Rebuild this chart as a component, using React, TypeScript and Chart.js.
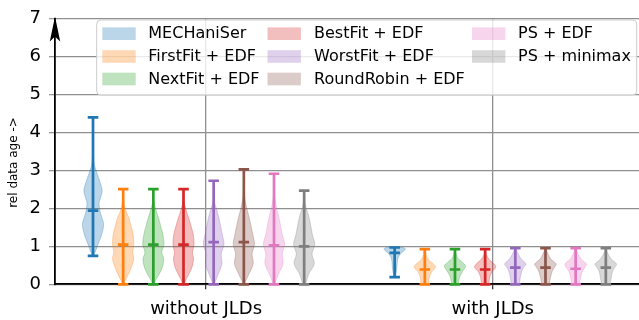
import React, { useEffect, useRef } from 'react';
import { Chart, registerables } from 'chart.js';

Chart.register(...registerables);
Chart.defaults.font.family = "'DejaVu Sans', sans-serif";

// ---------- data ----------
const seriesNames = [
  'MECHaniSer',
  'FirstFit + EDF',
  'NextFit + EDF',
  'BestFit + EDF',
  'WorstFit + EDF',
  'RoundRobin + EDF',
  'PS + EDF',
  'PS + minimax',
];
const groupLabels = ['without JLDs', 'with JLDs'];
const yTicks = [0, 1, 2, 3, 4, 5, 6, 7];
const yAxisTitle = 'rel data age ->';

const minWithout = [0.75, 0, 0, 0, 0, 0, 0, 0];
const maxWithout = [4.4, 2.51, 2.51, 2.51, 2.73, 3.03, 2.915, 2.47];
const medianWithout = [1.94, 1.045, 1.045, 1.045, 1.114, 1.114, 1.03, 1.0];

const minWith = [0.19, 0, 0, 0, 0, 0, 0, 0];
const maxWith = [0.97, 0.93, 0.93, 0.93, 0.95, 0.95, 0.95, 0.95];
const medianWith = [0.83, 0.39, 0.39, 0.39, 0.44, 0.44, 0.41, 0.44];

// density profiles: [value, relative density (1 = widest)]
const profileWithout: number[][][] = [
  [[0.75, 0], [0.84, 0.19], [1.055, 0.47], [1.31, 0.82], [1.57, 1.0], [1.75, 0.85], [1.91, 0.68], [2.12, 0.57], [2.25, 0.68], [2.43, 0.85], [2.55, 0.82], [2.77, 0.57], [3.03, 0.25], [3.2, 0.1], [3.5, 0.04], [4.0, 0.02], [4.4, 0]],
  [[0, 0.1], [0.07, 0.15], [0.24, 0.45], [0.45, 0.78], [0.67, 1.0], [0.84, 0.9], [1.055, 1.0], [1.31, 0.95], [1.53, 0.75], [1.74, 0.55], [1.91, 0.3], [2.17, 0.06], [2.51, 0.01]],
  [[0, 0.1], [0.1, 0.2], [0.24, 0.5], [0.45, 0.85], [0.67, 0.98], [0.84, 0.8], [1.055, 1.0], [1.31, 0.9], [1.53, 0.7], [1.74, 0.5], [1.91, 0.3], [2.17, 0.07], [2.51, 0.01]],
  [[0, 0.1], [0.1, 0.2], [0.24, 0.45], [0.45, 0.8], [0.67, 0.95], [0.84, 0.85], [1.055, 1.0], [1.31, 0.92], [1.53, 0.72], [1.74, 0.5], [1.91, 0.3], [2.17, 0.07], [2.51, 0.01]],
  [[0, 0.1], [0.07, 0.15], [0.28, 0.45], [0.54, 0.78], [0.8, 0.72], [1.055, 0.97], [1.31, 0.82], [1.74, 0.5], [2.0, 0.25], [2.17, 0.08], [2.43, 0.02], [2.73, 0]],
  [[0, 0.1], [0.07, 0.15], [0.28, 0.5], [0.54, 0.88], [0.8, 0.78], [1.055, 1.0], [1.31, 0.85], [1.74, 0.52], [2.0, 0.28], [2.3, 0.08], [2.6, 0.03], [3.03, 0]],
  [[0, 0.1], [0.07, 0.15], [0.28, 0.45], [0.54, 0.85], [0.8, 0.78], [1.055, 1.0], [1.31, 0.78], [1.74, 0.48], [2.0, 0.25], [2.3, 0.07], [2.6, 0.02], [2.915, 0]],
  [[0, 0.15], [0.07, 0.2], [0.28, 0.45], [0.54, 0.95], [0.8, 0.75], [1.055, 1.0], [1.31, 0.78], [1.74, 0.48], [2.0, 0.2], [2.2, 0.05], [2.47, 0]],
];
const profileWith: number[][][] = [
  [[0.19, 0.05], [0.24, 0.1], [0.41, 0.2], [0.67, 0.3], [0.8, 0.55], [0.92, 1.0], [0.97, 0.8]],
  [[0, 0.35], [0.07, 0.38], [0.2, 0.45], [0.33, 0.65], [0.45, 1.0], [0.54, 0.8], [0.63, 0.4], [0.75, 0.15], [0.85, 0.07], [0.93, 0.03]],
  [[0, 0.3], [0.07, 0.35], [0.2, 0.45], [0.33, 0.7], [0.48, 1.0], [0.58, 0.7], [0.66, 0.35], [0.78, 0.12], [0.93, 0.03]],
  [[0, 0.35], [0.07, 0.38], [0.2, 0.45], [0.33, 0.65], [0.45, 1.0], [0.55, 0.8], [0.65, 0.4], [0.78, 0.12], [0.93, 0.03]],
  [[0, 0.38], [0.15, 0.45], [0.33, 0.6], [0.45, 0.8], [0.54, 1.0], [0.67, 0.55], [0.84, 0.2], [0.95, 0.05]],
  [[0, 0.35], [0.15, 0.45], [0.33, 0.62], [0.45, 0.85], [0.54, 1.0], [0.67, 0.5], [0.84, 0.18], [0.95, 0.05]],
  [[0, 0.38], [0.15, 0.45], [0.33, 0.62], [0.45, 0.9], [0.54, 1.0], [0.67, 0.5], [0.84, 0.18], [0.95, 0.05]],
  [[0, 0.4], [0.15, 0.5], [0.33, 0.62], [0.45, 0.85], [0.54, 1.0], [0.67, 0.5], [0.84, 0.15], [0.95, 0.05]],
];

// ---------- styles / layout ----------
const seriesColors = ['#1f77b4', '#ff7f0e', '#2ca02c', '#d62728', '#9467bd', '#8c564b', '#e377c2', '#7f7f7f'];
const groupOffsets = [0, 10];
const groupTickValues = [3.75, 13.25];
const violinHalf = 0.35;
const capHalf = 0.175;

function rgba(hex: string, a: number) {
  const n = parseInt(hex.slice(1), 16);
  return `rgba(${(n >> 16) & 255},${(n >> 8) & 255},${n & 255},${a})`;
}

function densify(p: number[][]) {
  const out: number[][] = [];
  const n = p.length;
  for (let i = 0; i < n - 1; i++) {
    const p0 = p[Math.max(0, i - 1)], p1 = p[i], p2 = p[i + 1], p3 = p[Math.min(n - 1, i + 2)];
    const steps = 10;
    for (let s = 0; s < steps; s++) {
      const t = s / steps, t2 = t * t, t3 = t2 * t;
      const cr = (a: number, b: number, c: number, d: number) =>
        0.5 * (2 * b + (-a + c) * t + (2 * a - 5 * b + 4 * c - d) * t2 + (-a + 3 * b - 3 * c + d) * t3);
      out.push([cr(p0[0], p1[0], p2[0], p3[0]), Math.max(0, cr(p0[1], p1[1], p2[1], p3[1]))]);
    }
  }
  out.push(p[n - 1]);
  return out;
}

const groups = [
  { mins: minWithout, maxs: maxWithout, meds: medianWithout, profiles: profileWithout },
  { mins: minWith, maxs: maxWith, meds: medianWith, profiles: profileWith },
];

const violinPlugin = {
  id: 'violins',
  afterDatasetsDraw(chart: any) {
    const { ctx } = chart;
    const x = chart.scales.x, y = chart.scales.y;
    ctx.save();
    groups.forEach((g, gi) => {
      seriesNames.forEach((_, i) => {
        const pos = groupOffsets[gi] + i;
        const color = seriesColors[i];
        const dense = densify(g.profiles[i]);
        ctx.beginPath();
        dense.forEach(([v, d], k) => {
          const px = x.getPixelForValue(pos + violinHalf * d);
          const py = y.getPixelForValue(v);
          if (k === 0) ctx.moveTo(px, py); else ctx.lineTo(px, py);
        });
        for (let k = dense.length - 1; k >= 0; k--) {
          const [v, d] = dense[k];
          ctx.lineTo(x.getPixelForValue(pos - violinHalf * d), y.getPixelForValue(v));
        }
        ctx.closePath();
        ctx.fillStyle = rgba(color, 0.3);
        ctx.fill();
        ctx.strokeStyle = rgba(color, 0.3);
        ctx.lineWidth = 1;
        ctx.stroke();

        ctx.strokeStyle = color;
        ctx.lineWidth = 2.7;
        ctx.lineCap = 'butt';
        ctx.beginPath();
        ctx.moveTo(x.getPixelForValue(pos), y.getPixelForValue(g.mins[i]));
        ctx.lineTo(x.getPixelForValue(pos), y.getPixelForValue(g.maxs[i]));
        [g.mins[i], g.maxs[i], g.meds[i]].forEach((v) => {
          ctx.moveTo(x.getPixelForValue(pos - capHalf), y.getPixelForValue(v));
          ctx.lineTo(x.getPixelForValue(pos + capHalf), y.getPixelForValue(v));
        });
        ctx.stroke();
      });
    });
    ctx.restore();
  },
  afterDraw(chart: any) {
    const { ctx, chartArea } = chart;
    ctx.save();
    // arrow on y axis
    const ax = chartArea.left, at = chartArea.top;
    ctx.fillStyle = '#000';
    ctx.beginPath();
    ctx.moveTo(ax, at - 2.3);
    ctx.lineTo(ax - 5.2, at + 22.7);
    ctx.lineTo(ax, at + 17.7);
    ctx.lineTo(ax + 5.2, at + 22.7);
    ctx.closePath();
    ctx.fill();

    // y title
    ctx.save();
    ctx.translate(13.5, 162.5);
    ctx.rotate(-Math.PI / 2);
    ctx.font = "12px 'DejaVu Sans'";
    ctx.fillStyle = '#000';
    ctx.textAlign = 'center';
    ctx.textBaseline = 'middle';
    ctx.fillText(yAxisTitle, 0, 0);
    ctx.restore();

    // legend
    const bx0 = 96.7, by0 = 20, bx1 = 636.7, by1 = 95, r = 4;
    ctx.beginPath();
    ctx.moveTo(bx0 + r, by0);
    ctx.lineTo(bx1 - r, by0);
    ctx.quadraticCurveTo(bx1, by0, bx1, by0 + r);
    ctx.lineTo(bx1, by1 - r);
    ctx.quadraticCurveTo(bx1, by1, bx1 - r, by1);
    ctx.lineTo(bx0 + r, by1);
    ctx.quadraticCurveTo(bx0, by1, bx0, by1 - r);
    ctx.lineTo(bx0, by0 + r);
    ctx.quadraticCurveTo(bx0, by0, bx0 + r, by0);
    ctx.closePath();
    ctx.fillStyle = 'rgba(255,255,255,0.8)';
    ctx.fill();
    ctx.strokeStyle = '#cccccc';
    ctx.lineWidth = 1;
    ctx.stroke();

    const cols = [
      { px: 102.3, tx: 148.3 },
      { px: 267.5, tx: 314 },
      { px: 472, tx: 518 },
    ];
    const rows = [33.7, 56.5, 79];
    ctx.font = "16px 'DejaVu Sans'";
    ctx.textAlign = 'left';
    ctx.textBaseline = 'middle';
    seriesNames.forEach((name, k) => {
      const c = cols[Math.floor(k / 3)];
      const ry = rows[k % 3];
      ctx.fillStyle = rgba(seriesColors[k], 0.3);
      ctx.fillRect(c.px, ry - 6.3, 33.4, 12.6);
      ctx.fillStyle = '#000';
      ctx.fillText(name, c.tx, ry + 0.5);
    });
    ctx.restore();
  },
};

export default function App() {
  const ref = useRef<HTMLCanvasElement | null>(null);
  useEffect(() => {
    if (!ref.current) return;
    const chart = new Chart(ref.current, {
      type: 'scatter',
      data: {
        datasets: seriesNames.map((name, i) => ({
          label: name,
          data: groups.map((g, gi) => ({ x: groupOffsets[gi] + i, y: g.meds[i] })),
          pointRadius: 0,
          showLine: false,
          backgroundColor: seriesColors[i],
        })),
      },
      options: {
        animation: false,
        responsive: true,
        maintainAspectRatio: false,
        layout: { padding: { top: 12.3, right: 0, left: 0, bottom: 0 } },
        plugins: { legend: { display: false }, tooltip: { enabled: false } },
        scales: {
          x: {
            type: 'linear',
            min: -1.26,
            max: 18.1,
            afterBuildTicks: (s: any) => {
              s.ticks = groupTickValues.map((v) => ({ value: v }));
            },
            ticks: {
              autoSkip: false,
              maxRotation: 0,
              font: { size: 18 },
              color: '#000',
              padding: 9,
              callback: (v: any) => {
                const idx = groupTickValues.indexOf(Number(v));
                return idx >= 0 ? groupLabels[idx] : '';
              },
            },
            grid: { color: '#8f8f8f', lineWidth: 1.3, tickLength: 5, tickColor: '#333', tickWidth: 1.3 },
            border: { color: '#000', width: 1.8 },
            afterFit: (s: any) => {
              s.height = 35.7;
            },
          },
          y: {
            min: 0,
            max: 7,
            afterBuildTicks: (s: any) => {
              s.ticks = yTicks.map((v) => ({ value: v }));
            },
            ticks: { font: { size: 18 }, color: '#000', padding: 8 },
            grid: { color: '#8f8f8f', lineWidth: 1.3, tickLength: 6, tickColor: '#999', tickWidth: 1.3 },
            border: { color: '#000', width: 1.8 },
            afterFit: (s: any) => {
              s.width = 55;
            },
          },
        },
      },
      plugins: [violinPlugin],
    });
    return () => chart.destroy();
  }, []);
  return (
    <div style={{ position: 'fixed', left: 0, top: 0, width: 639, height: 320, background: '#fff' }}>
      <canvas ref={ref} />
    </div>
  );
}
